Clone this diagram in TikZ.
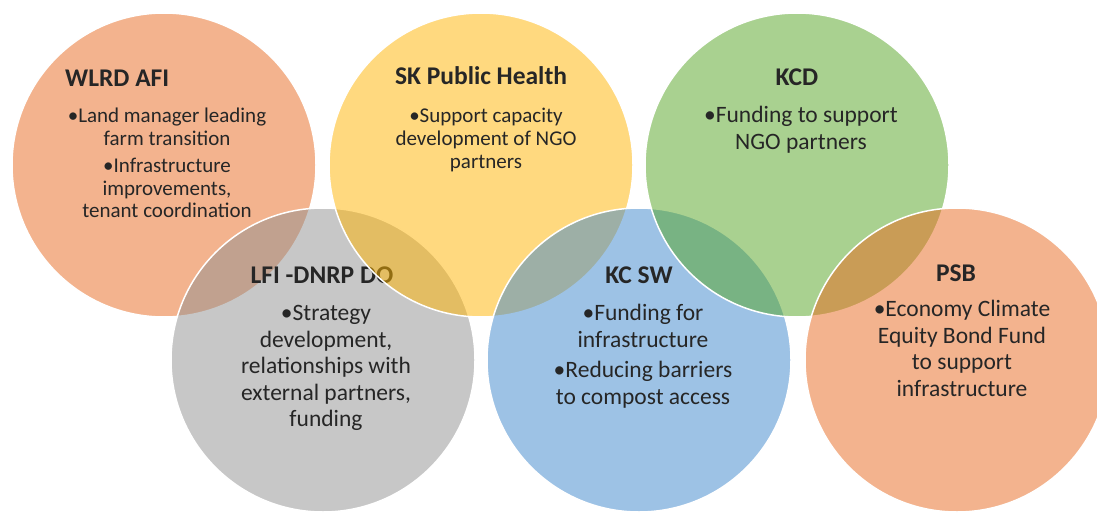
\documentclass[tikz,border=0pt]{standalone}
\usepackage{fontspec}
\setmainfont{Carlito}
\usepackage{tikz}

\definecolor{vennOrange}{RGB}{233,105,30}
\definecolor{vennGray}{RGB}{145,145,145}
\definecolor{vennYellow}{RGB}{255,180,0}
\definecolor{vennBlue}{RGB}{60,135,205}
\definecolor{vennGreen}{RGB}{85,165,35}
\definecolor{inkColor}{RGB}{38,38,38}

\begin{document}
\begin{tikzpicture}[x=1pt, y=-1pt,
        venn/.style={circle, draw=white, line width=1.5pt, fill opacity=.5, minimum size=304pt, inner sep=0pt},
        head/.style={font=\fontsize{25.5}{28}\selectfont\bfseries, text=inkColor, inner sep=0pt},
        top text/.style={font=\fontsize{21}{22.8}\selectfont, align=center, anchor=north, text=inkColor, inner sep=0pt},
        low text/.style={font=\fontsize{23.5}{26.6}\selectfont, align=center, anchor=north, text=inkColor, inner sep=0pt},
    ]

    \fill[white] (0,0) rectangle (1097,513);
    \useasboundingbox (0,0) rectangle (1097,513);

    % top row and bottom row, drawn in stacking order
    \node[venn, fill=vennOrange] (wlrd) at (164,165) {};
    \node[head, anchor=west] (wlrdT) at (65,78) {WLRD AFI};
    \node[top text] (wlrdB) at (167,108) {\textbullet Land manager leading\\ farm transition\\[4pt]
        \textbullet Infrastructure\\ improvements,\\ tenant coordination};

    \node[venn, fill=vennGray] (lfi) at (323,360) {};
    \node[head] (lfiT) at (322,275) {LFI -DNRP DO};
    \node[low text] (lfiB) at (326,305) {\textbullet Strategy\\ development,\\ relationships with\\
        external partners,\\ funding};

    \node[venn, fill=vennYellow] (skph) at (481,165) {};
    \node[head] (skphT) at (481,76) {SK Public Health};
    \node[top text] (skphB) at (486,108) {\textbullet Support capacity\\ development of NGO\\ partners};

    \node[venn, fill=vennBlue] (kcsw) at (639,360) {};
    \node[head] (kcswT) at (639,275) {KC SW};
    \node[low text] (kcswB) at (643,304) {\textbullet Funding for\\ infrastructure\\[4pt]
        \textbullet Reducing barriers\\ to compost access};

    \node[venn, fill=vennGreen] (kcd) at (797,165) {};
    \node[head] (kcdT) at (797,77) {KCD};
    \node[low text] (kcdB) at (801,106) {\textbullet Funding to support\\ NGO partners};

    \node[venn, fill=vennOrange] (psb) at (957,360) {};
    \node[head] (psbT) at (956,273) {PSB};
    \node[low text] (psbB) at (962,300) {\textbullet Economy Climate\\ Equity Bond Fund\\ to support\\
        infrastructure};
\end{tikzpicture}
\end{document}
